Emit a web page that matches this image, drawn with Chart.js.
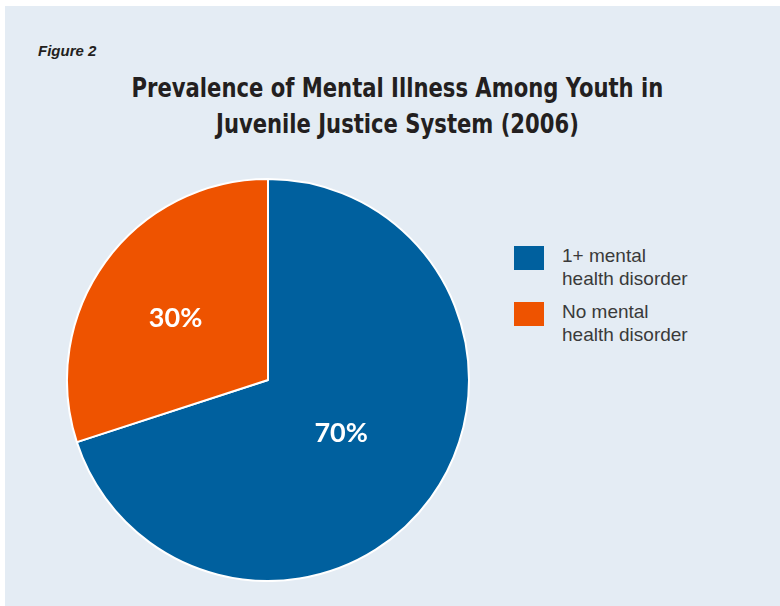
<!DOCTYPE html>
<html>
<head>
<meta charset="utf-8">
<title>Prevalence of Mental Illness Among Youth</title>
<script src="https://cdn.jsdelivr.net/npm/chart.js"></script>
<style>
body { margin: 0; background: #fff; }
.panel {
  position: absolute; left: 5px; top: 6px; width: 775px; height: 600px;
  background: #e4ecf4;
}
.fig {
  position: absolute; left: 33px; top: 36px;
  font: italic bold 15px "Liberation Sans", Arial, sans-serif; color: #231f20;
}
.title {
  position: absolute; left: 0; width: 785px; top: 64px; text-align: center;
  font: bold 27px "DejaVu Sans Condensed", sans-serif;
  line-height: 36px; color: #231f20;
  transform: scaleX(0.87); transform-origin: 392px 0;
}
.chart-box { position: absolute; left: 61px; top: 172px; width: 404px; height: 404px; }
.legend { position: absolute; left: 509px; top: 238px; }
.legend-item { position: relative; height: 56px; }
.legend-item .box { position: absolute; left: 0; top: 2px; width: 30px; height: 24px; }
.legend-item .txt {
  position: absolute; left: 48px; top: 0; white-space: nowrap;
  font: 19px "Liberation Sans", Arial, sans-serif; line-height: 23px; color: #3a3a3a;
}
</style>
</head>
<body>
<div class="panel">
  <div class="fig">Figure 2</div>
  <div class="title">Prevalence of Mental Illness Among Youth in<br>Juvenile Justice System (2006)</div>
  <div class="chart-box"><canvas id="pie" width="404" height="404"></canvas></div>
  <div class="legend" id="legend"></div>
</div>

<script>
// datos
const categories = [["1+ mental", "health disorder"], ["No mental", "health disorder"]];
const values = [70, 30];
const colors = ["#00609e", "#ee5300"];

// leyenda a mano
const legend = document.getElementById('legend');
categories.forEach((lines, i) => {
  const item = document.createElement('div');
  item.className = 'legend-item';
  item.innerHTML = '<div class="box" style="background:' + colors[i] + '"></div>' +
    '<div class="txt">' + lines.join('<br>') + '</div>';
  legend.appendChild(item);
});

// etiquetas de porcentaje dentro de cada sector
const pctLabels = {
  id: 'pctLabels',
  afterDatasetsDraw(chart) {
    const ctx = chart.ctx;
    const dist = [0.45, 0.55]; // fraccion del radio
    chart.getDatasetMeta(0).data.forEach((arc, i) => {
      const p = arc.getProps(['x', 'y', 'startAngle', 'endAngle', 'outerRadius'], true);
      const mid = (p.startAngle + p.endAngle) / 2;
      const r = p.outerRadius * dist[i];
      ctx.save();
      ctx.fillStyle = '#fff';
      ctx.font = 'bold 27px Lato, sans-serif';
      ctx.textAlign = 'center';
      ctx.textBaseline = 'middle';
      ctx.fillText(values[i] + '%', p.x + Math.cos(mid) * r - (i ? 3 : 0), p.y + Math.sin(mid) * r + (i ? 3 : 0));
      ctx.restore();
    });
  }
};

new Chart(document.getElementById('pie'), {
  type: 'pie',
  data: {
    labels: categories.map(l => l.join(' ')),
    datasets: [{
      data: values,
      backgroundColor: colors,
      borderColor: '#ffffff',
      borderWidth: 2
    }]
  },
  options: {
    responsive: false,
    animation: false,
    layout: { padding: 0 },
    plugins: {
      legend: { display: false },
      tooltip: { enabled: false }
    }
  },
  plugins: [pctLabels]
});
</script>
</body>
</html>
